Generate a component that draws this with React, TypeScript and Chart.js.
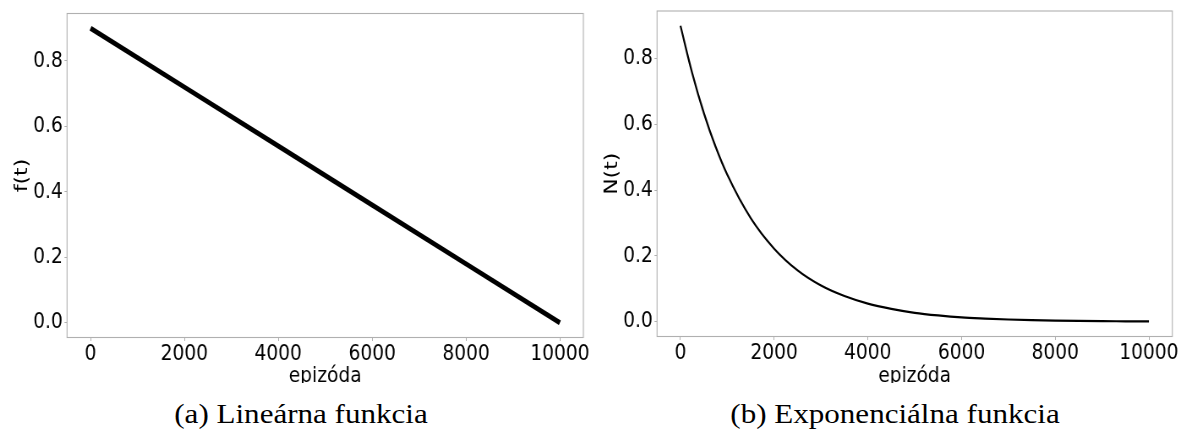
import React, { useEffect, useRef } from 'react';
import { Chart, registerables } from 'chart.js';

Chart.register(...registerables);

// ---- data ----
const xTickValues = [0, 2000, 4000, 6000, 8000, 10000];
const yTickValues = [0, 0.2, 0.4, 0.6, 0.8];

const linearEpisodes = [0, 2000, 4000, 6000, 8000, 10000];
const linearValues = [0.9, 0.72, 0.54, 0.36, 0.18, 0.0];

const expEpisodes = [0, 250, 500, 750, 1000, 1500, 2000, 2500, 3000, 3500, 4000, 4500, 5000, 5500, 6000, 6500, 7000, 7500, 8000, 8500, 9000, 9500, 10000];
const expValues = [0.9, 0.756, 0.634, 0.532, 0.447, 0.315, 0.222, 0.156, 0.11, 0.078, 0.055, 0.039, 0.027, 0.019, 0.013, 0.0095, 0.0067, 0.0047, 0.0033, 0.0023, 0.0016, 0.0012, 0.0008];

const xTitle = 'epizóda';
const yTitles = ['f(t)', 'N(t)'];
const captions = ['(a) Lineárna funkcia', '(b) Exponenciálna funkcia'];

// ---- layout ----
const SX = 0.845; // horizontal squeeze of the figure
const PANEL_W = 591;
const CANVAS_W = Math.round(PANEL_W / SX);
const CANVAS_H = 400;
const CLIP_H = 383;
const GRAY = '#b0b0b0';

type PanelProps = {
  episodes: number[];
  values: number[];
  yTitle: string;
  lineWidth: number;
  smooth: boolean;
  plotLeft: number;
  plotRight: number;
  plotTop: number;
  plotBottom: number;
};

function Panel(p: PanelProps) {
  const ref = useRef<HTMLCanvasElement>(null);
  useEffect(() => {
    if (!ref.current) return;
    const yAxisW = p.plotLeft / SX;
    const rightPad = CANVAS_W - p.plotRight / SX;
    const xAxisH = CANVAS_H - p.plotBottom;
    const font = { family: 'DejaVu Sans', size: 22 };
    const boxPlugin = {
      id: 'box',
      beforeDatasetsDraw(chart: any) {
        const { ctx, chartArea: a } = chart;
        ctx.save();
        ctx.strokeStyle = GRAY;
        ctx.lineWidth = 1.1;
        ctx.strokeRect(a.left, a.top, a.right - a.left, a.bottom - a.top);
        ctx.restore();
      },
    };
    const chart = new Chart(ref.current, {
      type: 'line',
      data: {
        datasets: [
          {
            data: p.episodes.map((x, i) => ({ x, y: p.values[i] })),
            borderColor: '#000',
            borderWidth: p.lineWidth,
            borderCapStyle: 'butt',
            pointRadius: 0,
            fill: false,
            tension: 0,
            cubicInterpolationMode: p.smooth ? 'monotone' : 'default',
          } as any,
        ],
      },
      options: {
        responsive: false,
        animation: false,
        devicePixelRatio: 1,
        events: [],
        layout: { padding: { left: 0, right: rightPad, top: p.plotTop, bottom: 0 } },
        plugins: { legend: { display: false }, tooltip: { enabled: false }, title: { display: false } },
        scales: {
          x: {
            type: 'linear',
            min: -500,
            max: 10500,
            afterBuildTicks: (s: any) => {
              s.ticks = xTickValues.map((v) => ({ value: v }));
            },
            afterFit: (s: any) => {
              s.height = xAxisH;
              s.paddingLeft = 0;
              s.paddingRight = 0;
              s.paddingTop = 0;
              s.paddingBottom = 0;
            },
            ticks: {
              color: '#000',
              font,
              padding: 0,
              maxRotation: 0,
              autoSkip: false,
              callback: (v: any) => String(v),
            },
            grid: { drawOnChartArea: false, drawTicks: true, tickLength: 3.5, color: GRAY },
            border: { display: false },
            title: { display: true, text: xTitle, color: '#000', font, padding: { top: 0, bottom: 11 } },
          },
          y: {
            type: 'linear',
            min: -0.045,
            max: 0.945,
            afterBuildTicks: (s: any) => {
              s.ticks = yTickValues.map((v) => ({ value: v }));
            },
            afterFit: (s: any) => {
              s.width = yAxisW;
              s.paddingLeft = 0;
              s.paddingRight = 0;
              s.paddingTop = 0;
              s.paddingBottom = 0;
            },
            ticks: {
              color: '#000',
              font,
              padding: 2,
              autoSkip: false,
              callback: (v: any) => Number(v).toFixed(1),
            },
            grid: { drawOnChartArea: false, drawTicks: true, tickLength: 3, color: GRAY },
            border: { display: false },
            title: { display: true, text: p.yTitle, color: '#000', font, padding: { top: 13, bottom: 0 } },
          },
        },
      } as any,
      plugins: [boxPlugin],
    });
    return () => chart.destroy();
  }, []);
  return (
    <div style={{ width: PANEL_W, height: CLIP_H, overflow: 'hidden' }}>
      <canvas
        ref={ref}
        width={CANVAS_W}
        height={CANVAS_H}
        style={{ width: PANEL_W + 'px', height: CANVAS_H + 'px', display: 'block' }}
      />
    </div>
  );
}

function Caption({ text, center }: { text: string; center: number }) {
  return (
    <div
      style={{
        position: 'absolute',
        top: 401,
        left: center - 300,
        width: 600,
        textAlign: 'center',
        fontFamily: '"Liberation Serif", serif',
        fontSize: 27,
        lineHeight: '27px',
        color: '#000',
        whiteSpace: 'nowrap',
        transform: 'scaleX(1.15)',
      }}
    >
      {text}
    </div>
  );
}

export default function App() {
  return (
    <div
      style={{
        position: 'fixed',
        left: 0,
        top: 0,
        width: 1182,
        height: 432,
        background: '#fff',
        overflow: 'hidden',
      }}
    >
      <div style={{ position: 'absolute', left: 0, top: 0 }}>
        <Panel
          episodes={linearEpisodes}
          values={linearValues}
          yTitle={yTitles[0]}
          lineWidth={5}
          smooth={false}
          plotLeft={67}
          plotRight={583}
          plotTop={13.5}
          plotBottom={337.5}
        />
      </div>
      <div style={{ position: 'absolute', left: 590, top: 0 }}>
        <Panel
          episodes={expEpisodes}
          values={expValues}
          yTitle={yTitles[1]}
          lineWidth={2.2}
          smooth={true}
          plotLeft={67}
          plotRight={582}
          plotTop={11}
          plotBottom={336.5}
        />
      </div>
      <Caption text={captions[0]} center={301} />
      <Caption text={captions[1]} center={895} />
    </div>
  );
}
